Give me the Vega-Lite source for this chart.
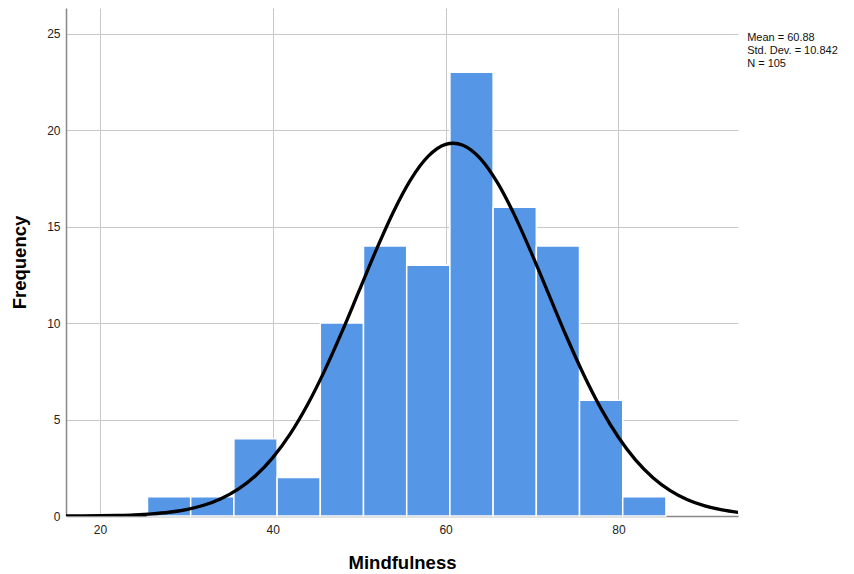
{
  "$schema": "https://vega.github.io/schema/vega-lite/v6.json",
  "width": 672,
  "height": 508,
  "autosize": {"type": "none"},
  "padding": {"left": 66, "top": 8, "right": 116, "bottom": 58},
  "background": "white",
  "config": {
    "view": {"stroke": null},
    "font": "Liberation Sans",
    "axis": {
      "gridColor": "#c8c8c8",
      "gridWidth": 1,
      "domainColor": "#888888",
      "domainWidth": 1.5,
      "ticks": false,
      "labelFont": "Liberation Sans",
      "labelFontSize": 12,
      "labelColor": "#222222",
      "titleFont": "Liberation Sans",
      "titleFontSize": 18.5,
      "titleFontWeight": "bold",
      "titleColor": "#000000"
    }
  },
  "datasets": {
    "bins": [
      {"bin_start": 25.5, "bin_end": 30.5, "count": 1},
      {"bin_start": 30.5, "bin_end": 35.5, "count": 1},
      {"bin_start": 35.5, "bin_end": 40.5, "count": 4},
      {"bin_start": 40.5, "bin_end": 45.5, "count": 2},
      {"bin_start": 45.5, "bin_end": 50.5, "count": 10},
      {"bin_start": 50.5, "bin_end": 55.5, "count": 14},
      {"bin_start": 55.5, "bin_end": 60.5, "count": 13},
      {"bin_start": 60.5, "bin_end": 65.5, "count": 23},
      {"bin_start": 65.5, "bin_end": 70.5, "count": 16},
      {"bin_start": 70.5, "bin_end": 75.5, "count": 14},
      {"bin_start": 75.5, "bin_end": 80.5, "count": 6},
      {"bin_start": 80.5, "bin_end": 85.5, "count": 1}
    ],
    "curve": [
      {"x": 16, "y": 0.0037}, {"x": 18, "y": 0.0077}, {"x": 20, "y": 0.0158},
      {"x": 22, "y": 0.0311}, {"x": 24, "y": 0.0593}, {"x": 26, "y": 0.1094},
      {"x": 28, "y": 0.1946}, {"x": 30, "y": 0.3345}, {"x": 32, "y": 0.556},
      {"x": 34, "y": 0.894}, {"x": 36, "y": 1.389}, {"x": 38, "y": 2.084},
      {"x": 40, "y": 3.026}, {"x": 42, "y": 4.241}, {"x": 44, "y": 5.75},
      {"x": 46, "y": 7.533}, {"x": 48, "y": 9.54}, {"x": 50, "y": 11.68},
      {"x": 52, "y": 13.82}, {"x": 54, "y": 15.8}, {"x": 56, "y": 17.46},
      {"x": 58, "y": 18.65}, {"x": 60, "y": 19.26}, {"x": 60.88, "y": 19.32},
      {"x": 62, "y": 19.22}, {"x": 64, "y": 18.54}, {"x": 66, "y": 17.28},
      {"x": 68, "y": 15.57}, {"x": 70, "y": 13.56}, {"x": 72, "y": 11.42},
      {"x": 74, "y": 9.291}, {"x": 76, "y": 7.307}, {"x": 78, "y": 5.555},
      {"x": 80, "y": 4.081}, {"x": 82, "y": 2.898}, {"x": 84, "y": 1.988},
      {"x": 86, "y": 1.319}, {"x": 88, "y": 0.846}, {"x": 90, "y": 0.524},
      {"x": 92, "y": 0.314}, {"x": 94, "y": 0.182}
    ],
    "stats": [
      {"label": "Mean = 60.88", "px": 94.9, "py": 24.77},
      {"label": "Std. Dev. = 10.842", "px": 94.9, "py": 24.09},
      {"label": "N = 105", "px": 94.9, "py": 23.42}
    ]
  },
  "layer": [
    {
      "data": {"name": "bins"},
      "mark": {"type": "rect", "color": "#5596e6", "stroke": "white", "strokeWidth": 1.5},
      "encoding": {
        "x": {
          "field": "bin_start", "type": "quantitative",
          "scale": {"domain": [16.07, 93.84], "nice": false, "zero": false},
          "axis": {"values": [20, 40, 60, 80], "title": "Mindfulness", "labelPadding": 8, "titlePadding": 18, "grid": true}
        },
        "x2": {"field": "bin_end"},
        "y": {
          "field": "count", "type": "quantitative",
          "scale": {"domain": [0, 26.33], "nice": false},
          "axis": {"values": [0, 5, 10, 15, 20, 25], "title": "Frequency", "labelPadding": 6, "titlePadding": 17, "grid": true}
        },
        "y2": {"datum": 0}
      }
    },
    {
      "data": {"name": "curve"},
      "mark": {"type": "line", "color": "black", "strokeWidth": 3.3, "interpolate": "monotone", "clip": true},
      "encoding": {
        "x": {"field": "x", "type": "quantitative"},
        "y": {"field": "y", "type": "quantitative"}
      }
    },
    {
      "data": {"name": "stats"},
      "mark": {"type": "text", "align": "left", "baseline": "middle", "fontSize": 11, "font": "Liberation Sans", "color": "#111111"},
      "encoding": {
        "x": {"field": "px", "type": "quantitative"},
        "y": {"field": "py", "type": "quantitative"},
        "text": {"field": "label"}
      }
    }
  ]
}
